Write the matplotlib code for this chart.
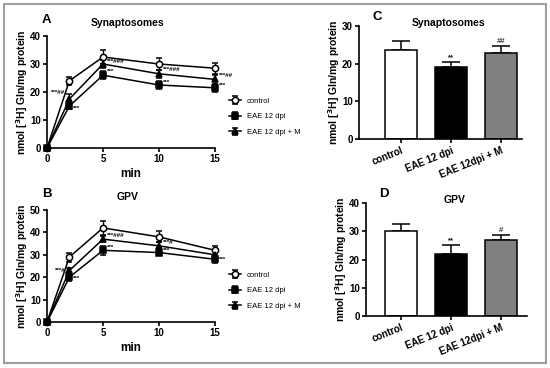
"""Glutamine uptake time course and bar panels (A-D)."""

import matplotlib
matplotlib.use("Agg")
import matplotlib.pyplot as plt
from matplotlib.patches import Rectangle

plt.rcParams["font.family"] = ["Liberation Sans", "DejaVu Sans"]
plt.rcParams["font.weight"] = "bold"
plt.rcParams["axes.titleweight"] = "bold"
plt.rcParams["axes.labelweight"] = "bold"
plt.rcParams["mathtext.default"] = "bf"

TIMES = [0, 2, 5, 10, 15]
SERIES = ["control", "EAE 12 dpi", "EAE 12 dpi + M"]

SYN_CONTROL = [0, 24.0, 32.5, 30.0, 28.5]
SYN_CONTROL_ERR = [0, 1.5, 2.5, 2.0, 2.0]
SYN_EAE = [0, 15.0, 26.0, 22.5, 21.5]
SYN_EAE_ERR = [0, 1.2, 1.5, 1.5, 1.5]
SYN_EAE_M = [0, 17.5, 30.0, 26.5, 24.5]
SYN_EAE_M_ERR = [0, 1.8, 1.5, 1.5, 1.5]

GPV_CONTROL = [0, 29.0, 42.0, 38.0, 32.0]
GPV_CONTROL_ERR = [0, 2.0, 3.0, 2.5, 2.0]
GPV_EAE = [0, 20.0, 32.0, 31.0, 28.0]
GPV_EAE_ERR = [0, 1.5, 2.0, 1.2, 1.5]
GPV_EAE_M = [0, 23.0, 37.0, 34.0, 30.0]
GPV_EAE_M_ERR = [0, 1.2, 1.5, 1.5, 1.5]

# significance marks: (time, y, text, side)
SYN_MARKS = [(2, 19.8, "***##", "left"), (2, 14.0, "***", "right"),
             (5, 31.0, "***###", "right"), (5, 27.5, "***", "right"),
             (10, 28.0, "***###", "right"), (10, 23.5, "***", "right"),
             (15, 26.0, "***##", "right"), (15, 22.5, "***", "right")]
GPV_MARKS = [(2, 23.0, "***#", "left"), (2, 19.5, "***", "right"),
             (5, 38.5, "***###", "right"), (5, 33.5, "***", "right"),
             (10, 35.5, "***#", "right"), (10, 32.0, "***", "right"),
             (15, 28.0, "***", "right")]

BAR_LABELS = ["control", "EAE 12 dpi", "EAE 12dpi + M"]
SYN_BARS = [23.5, 19.2, 22.9]
SYN_BARS_ERR = [2.5, 1.2, 1.8]
SYN_BAR_MARKS = ["", "**", "##"]
GPV_BARS = [30.0, 22.0, 27.0]
GPV_BARS_ERR = [2.5, 3.2, 1.8]
GPV_BAR_MARKS = ["", "**", "#"]

W, H = 550, 368
YLABEL = r"nmol [$^{3}$H] Gln/mg protein"


def px_axes(fig, left, top, right, bottom):
    return fig.add_axes([left / W, 1 - bottom / H, (right - left) / W, (bottom - top) / H])


def style(ax):
    for side in ("top", "right"):
        ax.spines[side].set_visible(False)
    for side in ("left", "bottom"):
        ax.spines[side].set_linewidth(1.2)
    ax.tick_params(direction="out", length=3, width=1.2, labelsize=7, pad=1.5)


def line_panel(ax, data, marks, ylim, yticks, title, letter):
    markers = [("o", "white"), ("s", "black"), ("^", "black")]
    for (vals, errs), name, (mk, fc) in zip(data, SERIES, markers):
        ax.errorbar(TIMES, vals, yerr=errs, color="black", lw=1.1, marker=mk,
                    ms=4.5, mfc=fc, mec="black", mew=1.1, capsize=2.5,
                    elinewidth=1.0, label=name, clip_on=False, zorder=3)
    for t, y, txt, side in marks:
        dx = -0.35 if side == "left" else 0.35
        ax.text(t + dx, y, txt, fontsize=4.5, ha="right" if side == "left" else "left",
                va="center")
    ax.set_xlim(0, 15)
    ax.set_ylim(*ylim)
    ax.set_xticks([0, 5, 10, 15])
    ax.set_yticks(yticks)
    ax.set_xlabel("min", fontsize=8.5, labelpad=3)
    ax.set_ylabel(YLABEL, fontsize=7.5, labelpad=0)
    ax.text(0.48, 1.12, title, transform=ax.transAxes, fontsize=7.5, ha="center",
            va="center")
    ax.text(-0.03, 1.14, letter, transform=ax.transAxes, fontsize=9.5, ha="left",
            va="center")
    style(ax)
    ax.legend(loc="center left", bbox_to_anchor=(1.04, 0.28), frameon=False,
              prop={"size": 5.5, "weight": "normal"}, handlelength=1.6,
              labelspacing=1.1, handletextpad=0.8)


def bar_panel(ax, vals, errs, marks, ylim, yticks, title, letter):
    colors = ["white", "black", "#808080"]
    x = range(len(vals))
    ax.bar(x, vals, width=0.65, color=colors, edgecolor="black", linewidth=1.1,
           zorder=2)
    ax.errorbar(x, vals, yerr=[[0] * len(errs), errs], fmt="none", ecolor="black",
                elinewidth=1.1, capsize=6.5, capthick=1.1, zorder=1)
    for xi, v, e, m in zip(x, vals, errs, marks):
        if m:
            ax.text(xi, v + e + 0.3, m, fontsize=5.5, ha="center", va="bottom",
                    color="#444444" if m.startswith("#") else "black")
    ax.set_ylim(*ylim)
    ax.set_yticks(yticks)
    ax.set_xticks(list(x))
    ax.set_xticklabels(BAR_LABELS, rotation=22, ha="right", rotation_mode="anchor",
                       fontsize=6.2)
    ax.set_ylabel(YLABEL, fontsize=7.5, labelpad=0)
    ax.text(0.55, 1.03, title, transform=ax.transAxes, fontsize=7.5, ha="center",
            va="center")
    ax.text(0.08, 1.08, letter, transform=ax.transAxes, fontsize=9.5, ha="left",
            va="center")
    style(ax)


def main() -> None:
    fig = plt.figure(figsize=(W / 100, H / 100), dpi=100)
    fig.patches.append(Rectangle((4 / W, 5 / H), 542 / W, 359 / H, transform=fig.transFigure,
                                 fill=False, edgecolor="#a0a0a0", linewidth=1.5))

    ax_a = px_axes(fig, 47, 36, 215, 148)
    line_panel(ax_a, [(SYN_CONTROL, SYN_CONTROL_ERR), (SYN_EAE, SYN_EAE_ERR),
                      (SYN_EAE_M, SYN_EAE_M_ERR)], SYN_MARKS, (0, 40),
               [0, 10, 20, 30, 40], "Synaptosomes", "A")

    ax_b = px_axes(fig, 47, 210, 215, 322)
    line_panel(ax_b, [(GPV_CONTROL, GPV_CONTROL_ERR), (GPV_EAE, GPV_EAE_ERR),
                      (GPV_EAE_M, GPV_EAE_M_ERR)], GPV_MARKS, (0, 50),
               [0, 10, 20, 30, 40, 50], "GPV", "B")

    ax_c = px_axes(fig, 359, 26, 522, 139)
    ax_c.set_xlim(-0.84, 2.42)
    bar_panel(ax_c, SYN_BARS, SYN_BARS_ERR, SYN_BAR_MARKS, (0, 30), [0, 10, 20, 30],
              "Synaptosomes", "C")

    ax_d = px_axes(fig, 366, 203, 527, 316)
    ax_d.set_xlim(-0.7, 2.52)
    bar_panel(ax_d, GPV_BARS, GPV_BARS_ERR, GPV_BAR_MARKS, (0, 40), [0, 10, 20, 30, 40],
              "GPV", "D")

    fig.savefig("out.png", dpi=100)
    plt.close(fig)


if __name__ == "__main__":
    main()
